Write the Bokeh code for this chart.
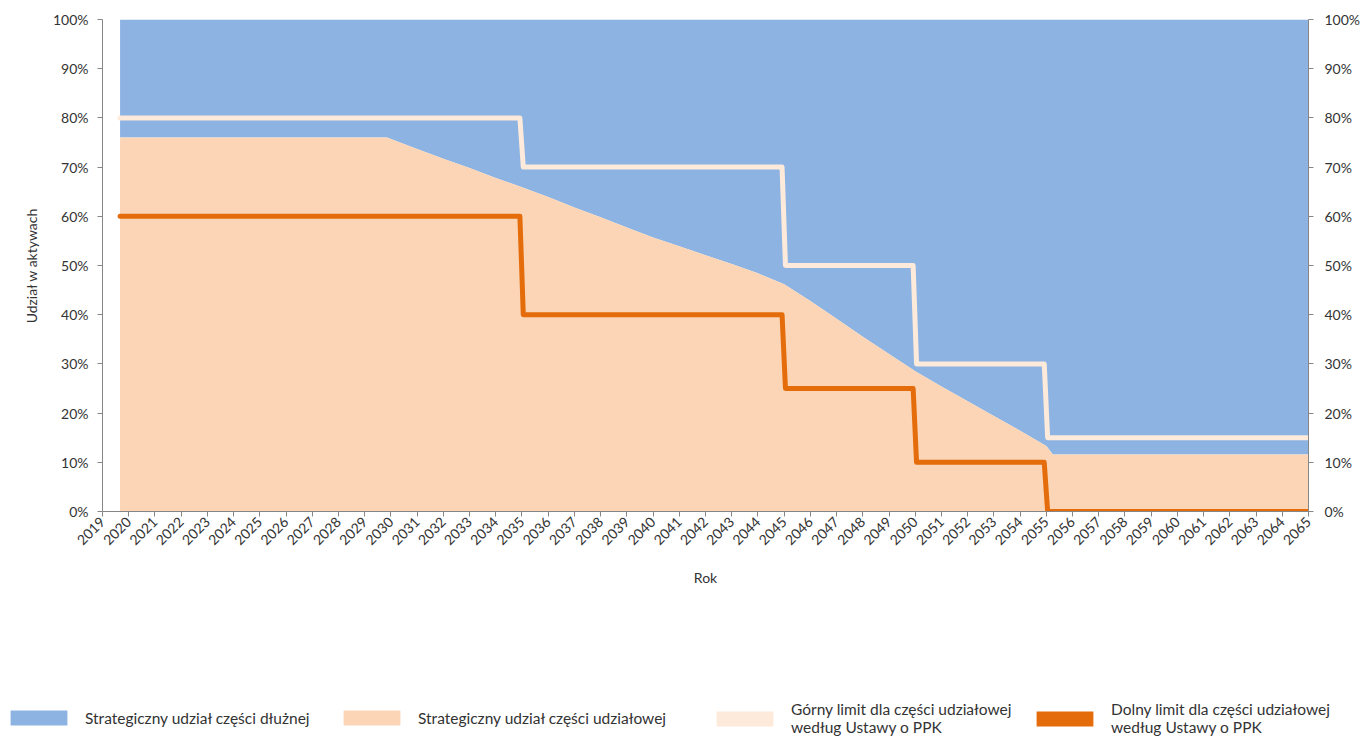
import math
from bokeh.plotting import figure
from bokeh.models import (ColumnDataSource, LinearAxis, FixedTicker, NumeralTickFormatter,
                          Range1d, Legend, LegendItem)
from bokeh.embed import file_html
from bokeh.resources import INLINE

# ---------------- data ----------------
year_ticks = list(range(2019, 2066))
y_ticks = [0.0, 0.1, 0.2, 0.3, 0.4, 0.5, 0.6, 0.7, 0.8, 0.9, 1.0]

equity_x = [2019.67, 2029.85, 2031, 2032, 2033, 2034, 2035, 2036, 2037, 2038, 2039, 2040,
            2041, 2042, 2043, 2044, 2045, 2046, 2047, 2048, 2049, 2050, 2051, 2052, 2053,
            2054, 2055, 2055.25, 2065]
equity_share = [0.760, 0.760, 0.737, 0.717, 0.698, 0.678, 0.659, 0.639, 0.618, 0.598, 0.577, 0.557,
                0.539, 0.521, 0.503, 0.484, 0.462, 0.428, 0.392, 0.355, 0.320, 0.285, 0.254, 0.224, 0.194,
                0.164, 0.133, 0.116, 0.116]
debt_top = [1.0] * len(equity_x)

limit_x = [2019.67, 2034.92, 2035.05, 2044.92, 2045.05, 2049.92, 2050.05, 2054.92, 2055.05, 2065]
upper_limit = [0.80, 0.80, 0.70, 0.70, 0.50, 0.50, 0.30, 0.30, 0.15, 0.15]
lower_limit = [0.60, 0.60, 0.40, 0.40, 0.25, 0.25, 0.10, 0.10, 0.00, 0.00]

labels = ["Strategiczny udział części dłużnej",
          "Strategiczny udział części udziałowej",
          "Górny limit dla części udziałowej\nwedług Ustawy o PPK",
          "Dolny limit dla części udziałowej\nwedług Ustawy o PPK"]

BLUE = "#8DB3E2"
PEACH = "#FBD5B5"
CREAM = "#FDEADA"
ORANGE = "#E46C0A"
AXIS = "#868686"
TEXT = "#333333"
FONT = "Lato"

W = 1363

# ---------------- main figure ----------------
p = figure(width=W, height=600, output_backend="svg", toolbar_location=None,
           x_range=Range1d(2019, 2065), y_range=Range1d(0, 1),
           min_border_left=102, min_border_top=19, min_border_right=53, min_border_bottom=89)
p.outline_line_color = None
p.xgrid.visible = False
p.ygrid.visible = False

area_src = ColumnDataSource(dict(x=equity_x, eq=equity_share, top=debt_top))
lim_src = ColumnDataSource(dict(x=limit_x, up=upper_limit, lo=lower_limit))

p.varea(x="x", y1="eq", y2="top", source=area_src, fill_color=BLUE)
p.varea(x="x", y1=0, y2="eq", source=area_src, fill_color=PEACH)
p.line(x="x", y="up", source=lim_src, line_color=CREAM, line_width=5,
       line_cap="round", line_join="round")
p.line(x="x", y="lo", source=lim_src, line_color=ORANGE, line_width=5,
       line_cap="round", line_join="round")

# ---------------- axes ----------------
xa = p.xaxis[0]
xa.ticker = FixedTicker(ticks=year_ticks)
xa.major_label_orientation = math.pi / 4
xa.axis_label = "Rok"
xa.major_label_standoff = 3
xa.axis_label_standoff = 16
xa.major_label_text_font_size = "14px"

ya = p.yaxis[0]
ya.axis_label = "Udział w aktywach"
ra = LinearAxis()
p.add_layout(ra, "right")
for ax in [ya, ra]:
    ax.ticker = FixedTicker(ticks=y_ticks)
    ax.formatter = NumeralTickFormatter(format="0%")
    ax.major_label_text_font_size = "14px"

for ax in [xa, ya, ra]:
    ax.major_label_text_font = FONT
    ax.major_label_text_color = TEXT
    ax.axis_line_color = AXIS
    ax.major_tick_line_color = AXIS
    ax.major_tick_out = 5
    ax.major_tick_in = 0
    ax.minor_tick_line_color = None
    ax.axis_label_text_font = FONT
    ax.axis_label_text_font_size = "14px"
    ax.axis_label_text_font_style = "normal"
    ax.axis_label_text_color = TEXT

ya.major_label_standoff = 9
ya.axis_label_standoff = 10
ra.major_label_standoff = 11

# ---------------- legend strip (separate root, so its frame spans the full width) ----------------
lf = figure(width=W, height=136, output_backend="svg", toolbar_location=None,
            x_range=Range1d(0, 1), y_range=Range1d(5, 6),
            x_axis_location=None, y_axis_location=None,
            min_border_left=0, min_border_right=0, min_border_top=0, min_border_bottom=0)
lf.outline_line_color = None
lf.xgrid.visible = False
lf.ygrid.visible = False

# same series as the chart (outside this strip's ranges) so the legend swatches are filled boxes
sw_debt = lf.varea(x="x", y1="eq", y2="top", source=area_src, fill_color=BLUE)
sw_eq = lf.varea(x="x", y1=0, y2="eq", source=area_src, fill_color=PEACH)
sw_up = lf.varea(x="x", y1="lo", y2="up", source=lim_src, fill_color=CREAM)
sw_lo = lf.varea(x="x", y1="lo", y2="up", source=lim_src, fill_color=ORANGE)
swatches = [sw_debt, sw_eq, sw_up, sw_lo]
legend_pos = [(3, 9), (336, 9), (709, 0), (1029, 0)]

for label, r, loc in zip(labels, swatches, legend_pos):
    lg = Legend(items=[LegendItem(label=label, renderers=[r])],
                location=loc, orientation="horizontal",
                glyph_width=71, glyph_height=19, label_standoff=11,
                padding=0, margin=0, spacing=0,
                border_line_color=None, background_fill_alpha=0,
                label_text_font=FONT, label_text_font_size="15.5px",
                label_text_color=TEXT, label_text_line_height=1.35)
    lf.add_layout(lg, "center")

open("out.html", "w").write(file_html([p, lf], INLINE))
